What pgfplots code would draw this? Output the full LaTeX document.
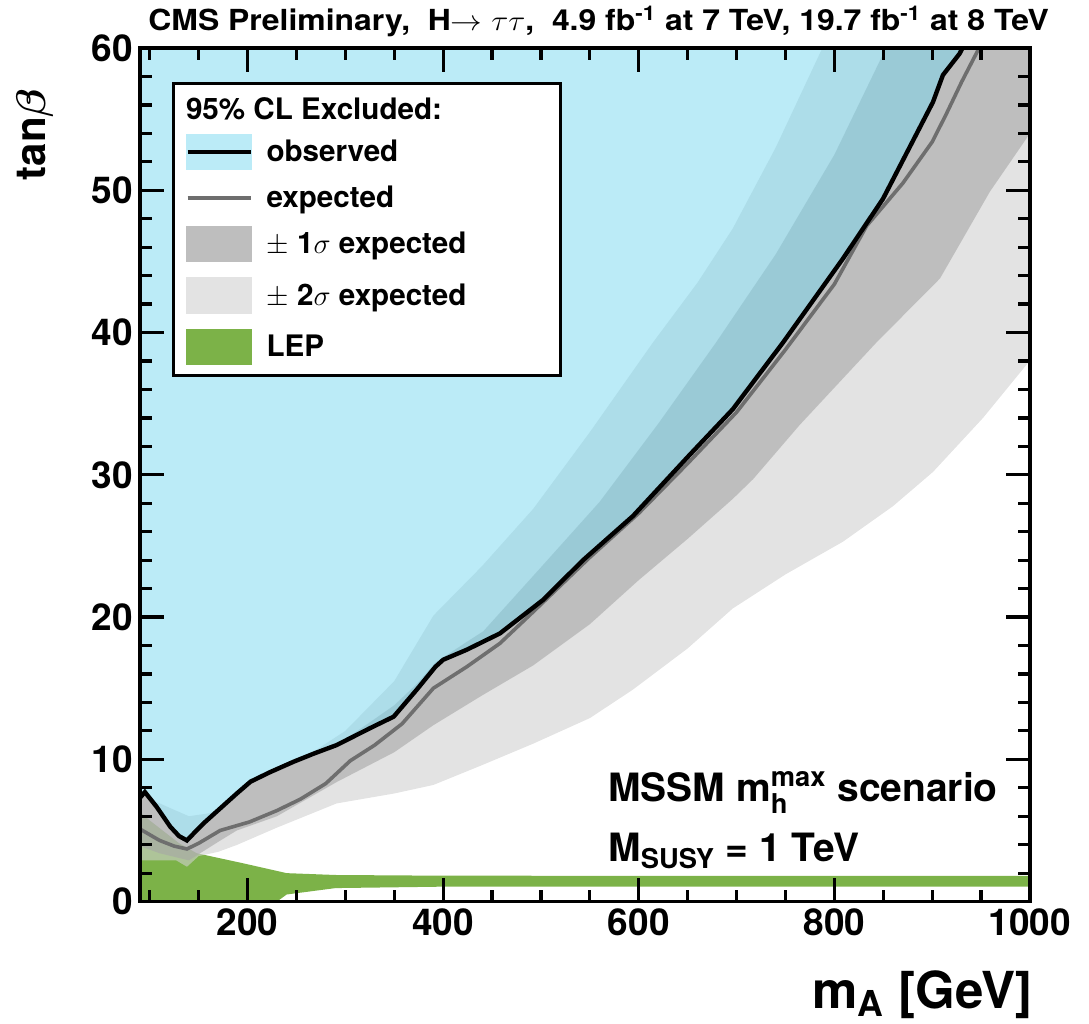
\documentclass[border=0pt]{standalone}
\usepackage{fontspec}
\setmainfont{TeX Gyre Heros}
\usepackage{amsmath}
\usepackage{graphicx}
\usepackage{pgfplots}
\pgfplotsset{compat=1.18}
\definecolor{blueexc}{RGB}{119,215,239}
\definecolor{bluelegend}{RGB}{187,235,247}
\definecolor{lep}{RGB}{124,178,72}
\definecolor{onesig}{RGB}{166,166,166}
\definecolor{twosig}{RGB}{208,208,208}
\definecolor{onesigleg}{RGB}{190,190,190}
\definecolor{twosigleg}{RGB}{227,227,227}
\definecolor{expcol}{RGB}{110,110,110}
\begin{document}
\begin{tikzpicture}
\begin{axis}[
  at={(0,0)}, anchor=south west,
  scale only axis, width=445pt, height=426.8pt,
  xmin=90, xmax=1000, ymin=0, ymax=60,
  xtick={200,400,600,800,1000},
  minor xtick={100,150,...,1000},
  ytick={0,10,...,60},
  minor ytick={2,4,...,58},
  major tick length=12pt, minor tick length=6pt,
  tick style={black, line width=1.6pt},
  axis line style={line width=1.6pt},
  tick label style={font=\fontsize{18.5}{20}\selectfont\bfseries},
  /pgf/number format/assume math mode=true,
  /pgf/number format/1000 sep={},
  axis on top,
  legend cell align=left,
  legend style={at={(0.036,0.960)}, anchor=north west, draw=black, line width=1.5pt,
    fill=white, font=\fontsize{14.8}{16}\selectfont\bfseries,
    inner xsep=6pt, inner ysep=5pt, row sep=7.5pt, column sep=6.8pt,
    nodes={inner sep=0pt}},
]
% legend entries
\addlegendimage{legend image code/.code={\node[overlay,anchor=west,inner sep=0pt] at (-1.6pt,-1.5pt) {\strut 95\% CL Excluded:};}}
\addlegendentry{\strut\hspace*{141pt}}
\addlegendimage{legend image code/.code={\fill[bluelegend] (0pt,-8.35pt) rectangle (31.5pt,8.35pt); \draw[black,line width=2.2pt] (0pt,0pt)--(31.5pt,0pt);}}
\addlegendentry{\strut observed}
\addlegendimage{legend image code/.code={\draw[expcol,line width=1.8pt] (0pt,0pt)--(31.5pt,0pt);}}
\addlegendentry{\strut expected}
\addlegendimage{legend image code/.code={\fill[onesigleg] (0pt,-8.35pt) rectangle (31.5pt,8.35pt);}}
\addlegendentry{\strut $\pm$ 1$\sigma$ expected}
\addlegendimage{legend image code/.code={\fill[twosigleg] (0pt,-8.35pt) rectangle (31.5pt,8.35pt);}}
\addlegendentry{\strut $\pm$ 2$\sigma$ expected}
\addlegendimage{legend image code/.code={\fill[lep] (0pt,-8.35pt) rectangle (31.5pt,8.35pt);}}
\addlegendentry{\strut LEP}

% LEP
\addplot[forget plot, fill=lep, draw=none] coordinates {
(90,6.3)(100,5.7)(115,4.9)(130,4.1)(148,3.4)(195,2.7)(240,2.0)(290,1.87)(400,1.82)(1000,1.8)
(1000,1.05)(400,1.05)(290,0.95)(240,0.5)(230,0)(90,0)} -- cycle;

% 2 sigma band
\addplot[forget plot, fill=twosig, fill opacity=0.6, draw=none] coordinates {
(90,7.3)(95,7.7)(107,7.0)(120,6.6)(140,6.0)(160,6.2)(175,6.6)(189,7.6)(203,8.43)(223,9.1)(247,9.83)(271,10.7)(300,12.0)(350,15.5)(390,20.1)(440,23.6)(492,27.6)(550,33.0)(614.5,39.3)(660,43.5)(696,47.3)(740,53.0)(785,59.6)(788,60)
(1000,60)
(1000,38.0)(996,37.7)(952,34.0)(900.8,30.2)(860,27.8)(808.8,25.3)(750,23.0)(696,20.6)(650,17.8)(594,14.9)(550,12.9)(492,11.1)(440,9.6)(390,8.2)(350,7.6)(291,6.9)(230,5.2)(189,3.98)(170,3.5)(150,3.2)(138,2.45)(127,2.9)(90,2.9)} -- cycle;

% 1 sigma band
\addplot[forget plot, fill=onesig, fill opacity=0.6, draw=none] coordinates {
(90,7.3)(95,7.7)(107,6.7)(121,5.3)(130,4.7)(138,4.4)(145,4.9)(172,6.6)(189,7.6)(203,8.43)(223,9.1)(247,9.83)(267.6,10.4)(291,11.0)(325,12.6)(350,13.8)(373,15.3)(392,16.8)(424,18.25)(441,19.0)(500,23.5)(560,28.1)(620,33.6)(679,39.3)(740,45.5)(800,52.5)(850,59.6)(852,60)
(1000,60)
(1000,54.0)(996,53.6)(959,49.9)(908,43.8)(843,39.3)(764.5,33.5)(717,29.7)(696,28.3)(650,25.5)(600,22.6)(550,19.5)(492,16.6)(440,14.5)(390,12.4)(350,10.5)(291,8.4)(230,6.0)(189,5.0)(170,4.2)(140,2.9)(110,3.4)(90,3.9)} -- cycle;

% observed excluded region
\addplot[forget plot, fill=blueexc, fill opacity=0.5, draw=none] coordinates {
(90,7.3)(95,7.7)(107,6.66)(121,5.26)(130,4.6)(138,4.3)(145,4.8)(155,5.5)(172,6.55)(189,7.6)(203,8.43)(223,9.1)(247,9.83)(267.6,10.4)(291,11.0)(325.5,12.2)(349.4,13.0)(373,14.9)(392,16.5)(400,17.0)(424,17.7)(458,18.85)(502,21.2)(543,24.0)(594,27.1)(652,31.4)(696,34.6)(747.5,39.3)(808.8,45.2)(849.7,49.4)(900.8,56.2)(911,58.1)(928,59.6)(931,60)
(90,60)} -- cycle;

% expected
\addplot[forget plot, expcol, line width=1.8pt] coordinates {
(90,5.1)(95,4.9)(110,4.3)(125,3.9)(138,3.7)(150,4.1)(172,5.0)(202,5.6)(230,6.4)(254,7.2)(280,8.3)(305,9.9)(330,11.0)(358,12.5)(390,15.0)(424,16.5)(458,18.15)(491,20.3)(550,24.2)(600,27.3)(650,30.8)(700,34.4)(750,38.8)(800,43.4)(833,47.5)(870,50.5)(900,53.4)(914,55.3)(930,57.6)(945,59.6)(948,60)};

% observed
\addplot[forget plot, black, line width=2.2pt] coordinates {
(90,7.3)(95,7.7)(107,6.66)(121,5.26)(130,4.6)(138,4.3)(145,4.8)(155,5.5)(172,6.55)(189,7.6)(203,8.43)(223,9.1)(247,9.83)(267.6,10.4)(291,11.0)(325.5,12.2)(349.4,13.0)(373,14.9)(392,16.5)(400,17.0)(424,17.7)(458,18.85)(502,21.2)(543,24.0)(594,27.1)(652,31.4)(696,34.6)(747.5,39.3)(808.8,45.2)(849.7,49.4)(900.8,56.2)(911,58.1)(928,59.6)(931,60)};
\end{axis}
% title and labels
\node[anchor=base west, inner sep=0pt, font=\fontsize{14.5}{16}\selectfont\bfseries] at (4pt,435.3pt)
  {\scalebox{1.1}[1]{CMS Preliminary,\ \ H$\rightarrow\tau\tau$,\ \ 4.9 fb\textsuperscript{-1} at 7 TeV, 19.7 fb\textsuperscript{-1} at 8 TeV}};
\node[anchor=base east, inner sep=0pt, font=\fontsize{25.5}{28}\selectfont\bfseries] at (446.5pt,-53.2pt)
  {m\textsubscript{A} [GeV]};
\node[rotate=90, anchor=base east, inner sep=0pt, font=\fontsize{21}{23}\selectfont\bfseries] at (-47pt,406.8pt)
  {tan{\boldmath$\beta$}};
\node[anchor=base west, inner sep=0pt, font=\fontsize{19.5}{22}\selectfont\bfseries] at (234pt,49.8pt)
  {MSSM $\text{m}_{\text{h}}^{\text{max}}$ scenario};
\node[anchor=base west, inner sep=0pt, font=\fontsize{19.5}{22}\selectfont\bfseries] at (234pt,19.8pt)
  {M$_{\text{SUSY}}$ = 1 TeV};
\pgfresetboundingbox
\useasboundingbox (-70pt,-61.2pt) rectangle (474.5pt,450.8pt);
\end{tikzpicture}
\end{document}
